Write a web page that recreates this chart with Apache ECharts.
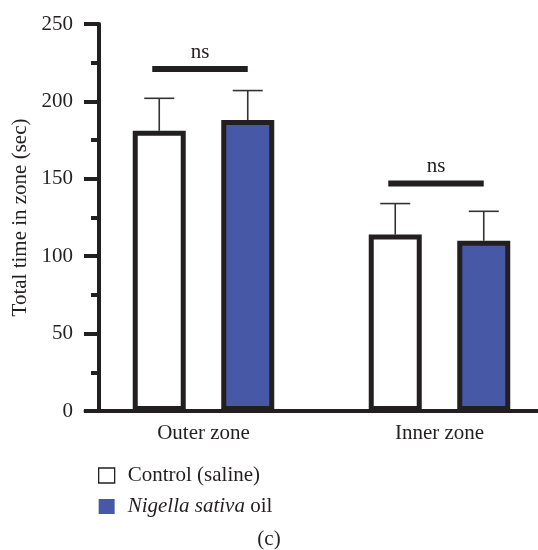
<!DOCTYPE html>
<html>
<head>
<meta charset="utf-8">
<script src="https://cdn.jsdelivr.net/npm/echarts@6/dist/echarts.min.js"></script>
<style>
  html, body { margin: 0; padding: 0; background: #fff; }
  #chart { width: 538px; height: 550px; }
</style>
</head>
<body>
<div id="chart"></div>
<script>
// data
const zones = ['Outer zone', 'Inner zone'];
const controlMean = [181, 114];
const controlSem = [21, 20];
const nigellaMean = [188, 110];
const nigellaSem = [19, 19];
const sigLevels = [221, 147];
const sigLabels = ['ns', 'ns'];
const yTicks = [0, 50, 100, 150, 200, 250];

const FONT = '"Liberation Serif", "DejaVu Serif", serif';
const FS = 21;
const INK = '#231f20';
const BLUE = '#4759a6';
const BAR_W = 53;
const BAR_GAP = 35.5;
const HALF = (BAR_W + BAR_GAP) / 2; // distance of each bar from the band centre

function errorSeries(name, means, sems, shift) {
  return {
    name: name + ' err',
    type: 'custom',
    z: 1,
    silent: true,
    encode: { x: 0, y: [1, 2] },
    data: means.map((m, i) => [i, m, m + sems[i]]),
    renderItem: function (params, api) {
      const base = api.coord([api.value(0), api.value(1)]);
      const top = api.coord([api.value(0), api.value(2)]);
      const x = base[0] + shift;
      return {
        type: 'group',
        children: [
          { type: 'line', shape: { x1: x, y1: base[1], x2: x, y2: top[1] }, style: { stroke: '#333', lineWidth: 1.6 } },
          { type: 'line', shape: { x1: x - 15, y1: top[1], x2: x + 15, y2: top[1] }, style: { stroke: '#333', lineWidth: 1.6 } }
        ]
      };
    }
  };
}

const chart = echarts.init(document.getElementById('chart'), null, { renderer: 'canvas' });

const option = {
  animation: false,
  backgroundColor: '#fff',
  title: {
    text: '(c)',
    left: 'center',
    bottom: 0,
    padding: 0,
    textStyle: { fontFamily: FONT, fontSize: FS, fontWeight: 'normal', color: INK }
  },
  legend: {
    orient: 'vertical',
    left: 98,
    top: 465,
    padding: 0,
    itemWidth: 16,
    itemHeight: 15,
    itemGap: 10,
    selectedMode: false,
    data: [
      { name: 'Control (saline)', icon: 'rect', itemStyle: { color: '#fff', borderColor: INK, borderWidth: 1.3 } },
      { name: 'Nigella sativa oil', icon: 'rect', itemStyle: { color: BLUE, borderWidth: 0 } }
    ],
    formatter: function (name) {
      return name === 'Nigella sativa oil' ? '{i|Nigella sativa} oil' : name;
    },
    textStyle: {
      fontFamily: FONT,
      fontSize: FS,
      color: INK,
      padding: [0, 0, 0, 8],
      rich: { i: { fontFamily: FONT, fontSize: FS, fontStyle: 'italic', color: INK } }
    }
  },
  grid: {
    left: 85.5,
    right: -19.5,
    top: 24,
    bottom: 139,
    outerBoundsMode: 'none'
  },
  xAxis: {
    type: 'category',
    data: zones,
    axisLine: { lineStyle: { color: INK, width: 4 } },
    axisTick: { show: false },
    axisLabel: { fontFamily: FONT, fontSize: FS, color: INK, margin: 12 }
  },
  yAxis: {
    type: 'value',
    min: 0,
    max: 250,
    interval: 50,
    offset: -13.5,
    name: 'Total time in zone (sec)',
    nameLocation: 'middle',
    nameGap: 68,
    nameTextStyle: { fontFamily: FONT, fontSize: FS, color: INK },
    axisLine: { show: true, lineStyle: { color: INK, width: 4 } },
    axisTick: { show: true, length: 15, lineStyle: { color: INK, width: 4 } },
    minorTick: { show: true, splitNumber: 2, length: 8, lineStyle: { color: INK, width: 4 } },
    splitLine: { show: false },
    axisLabel: {
      fontFamily: FONT, fontSize: FS, color: INK, margin: 26,
      formatter: v => (yTicks.indexOf(v) >= 0 ? String(v) : '')
    }
  },
  series: [
    {
      name: 'Control (saline)',
      type: 'bar',
      z: 2,
      barWidth: BAR_W,
      barGap: (BAR_GAP / BAR_W * 100).toFixed(1) + '%',
      data: controlMean,
      itemStyle: { color: '#fff', borderColor: INK, borderWidth: 5 }
    },
    {
      name: 'Nigella sativa oil',
      type: 'bar',
      z: 2,
      barWidth: BAR_W,
      data: nigellaMean,
      itemStyle: { color: BLUE, borderColor: INK, borderWidth: 5 }
    },
    errorSeries('Control (saline)', controlMean, controlSem, -HALF),
    errorSeries('Nigella sativa oil', nigellaMean, nigellaSem, HALF),
    {
      name: 'significance',
      type: 'custom',
      z: 3,
      silent: true,
      encode: { x: 0, y: 1 },
      data: sigLevels.map((v, i) => [i, v]),
      renderItem: function (params, api) {
        const p = api.coord([api.value(0), api.value(1)]);
        const x1 = p[0] - HALF - 7;
        const x2 = p[0] + HALF;
        return {
          type: 'group',
          children: [
            { type: 'line', shape: { x1: x1, y1: p[1], x2: x2, y2: p[1] }, style: { stroke: INK, lineWidth: 6 } },
            {
              type: 'text',
              x: (x1 + x2) / 2,
              y: p[1] - 6,
              style: {
                text: sigLabels[params.dataIndex],
                fill: INK,
                font: FS + 'px ' + FONT,
                align: 'center',
                verticalAlign: 'bottom'
              }
            }
          ]
        };
      }
    }
  ]
};

chart.setOption(option);
</script>
</body>
</html>
